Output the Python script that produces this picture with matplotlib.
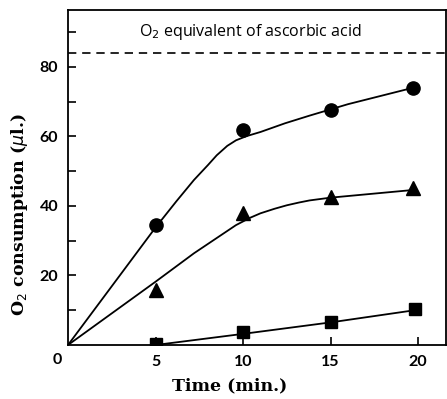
import matplotlib.pyplot as plt

# measured points (time in min, O2 uptake in microlitres)
time_pts = [5, 10, 15, 19.7]
circle_vals = [34.5, 61.9, 67.6, 74.0]
triangle_vals = [15.8, 38.0, 42.7, 45.1]
square_time = [5, 10, 15, 19.8]
square_vals = [0.3, 3.6, 6.5, 10.3]

# hand-drawn fitted curves
circle_fit_t = [0, 5, 6.2, 7.2, 8.0, 8.5, 9.1, 9.6, 10.2, 11, 12.4, 13.8, 16, 19.7]
circle_fit_v = [0, 33.8, 41.4, 47.5, 51.8, 54.6, 57.3, 58.9, 60.1, 61.3, 63.8, 66.0, 69.3, 74.0]
triangle_fit_t = [0, 5, 7.2, 9.6, 10.4, 11, 11.8, 12.5, 13.2, 13.8, 15, 19.7]
triangle_fit_v = [0, 18.2, 26.4, 34.5, 36.6, 37.9, 39.2, 40.2, 41.0, 41.6, 42.4, 44.6]
square_fit_t = [5, 10, 15, 19.8]
square_fit_v = [0, 3.2, 6.5, 10.0]

ascorbic_level = 84
x_ticks = [5, 10, 15, 20]
y_major = [20, 40, 60, 80]
y_minor = [10, 30, 50, 70, 90]

fig = plt.figure(figsize=(4.47, 3.99), dpi=100)
ax = fig.add_axes([68 / 447, 54 / 399, 378 / 447, 335 / 399])

ax.plot(circle_fit_t, circle_fit_v, color='black', lw=1.3)
ax.plot(triangle_fit_t, triangle_fit_v, color='black', lw=1.3)
ax.plot(square_fit_t, square_fit_v, color='black', lw=1.3)
ax.plot(time_pts, circle_vals, 'o', color='black', ms=9.5)
ax.plot(time_pts, triangle_vals, '^', color='black', ms=9.5)
ax.plot(square_time, square_vals, 's', color='black', ms=9)
ax.axhline(ascorbic_level, color='black', lw=1.2, dashes=(5, 3.5))

ax.text(10.4, 90, 'O$_2$ equivalent of ascorbic acid', ha='center', va='center',
        fontsize=11.5, family='Open Sans')

ax.set_xlim(0, 21.6)
ax.set_ylim(0, 96.4)
ax.set_xticks(x_ticks)
ax.set_yticks(y_major)
ax.set_yticks(y_minor, minor=True)
ax.tick_params(direction='in', length=6, width=1.2, labelsize=11.5, pad=7)
ax.tick_params(which='minor', direction='in', length=6, width=1.2)
for lbl in ax.get_xticklabels() + ax.get_yticklabels():
    lbl.set_family('Lato')
    lbl.set_fontweight('bold')
for s in ax.spines.values():
    s.set_linewidth(1.3)

fig.text(57 / 447, 1 - 360 / 399, '0', ha='center', va='center',
         fontsize=11.5, family='Lato', fontweight='bold')
fig.text(230 / 447, 1 - 386 / 399, 'Time (min.)', ha='center', va='center',
         fontsize=12.5, family='DejaVu Serif', fontweight='bold')
fig.text(20 / 447, 1 - 215 / 399, 'O$_2$ consumption ($\\mu$l.)', ha='center',
         va='center', rotation=90, fontsize=12.5, family='DejaVu Serif',
         fontweight='bold')

fig.savefig('out.png', dpi=100)
